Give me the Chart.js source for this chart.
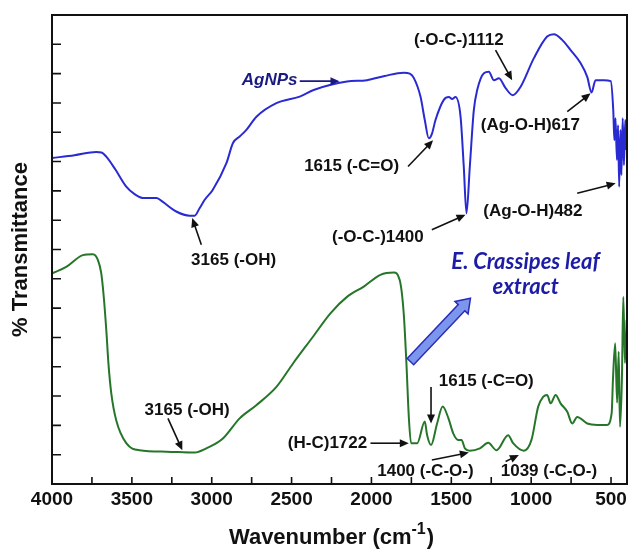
<!DOCTYPE html>
<html><head><meta charset="utf-8">
<script src="https://cdn.jsdelivr.net/npm/chart.js@4"></script>
<style>html,body{margin:0;padding:0;background:#fff}canvas{display:block}</style>
</head><body>
<canvas id="c" width="628" height="551"></canvas>
<script>
// ---- data ----
const agWavenumber = [4000,3859,3723,3690,3660,3602,3535,3483,3433,3345,3308,3222,3138,3107,3076,3044,2994,2908,2867,2825,2783,2720,2595,2449,2362,2153,2028,1917,1798,1760,1735,1693,1666,1641,1622,1599,1547,1515,1495,1474,1442,1422,1405,1384,1359,1338,1296,1265,1234,1202,1160,1115,1066,983,900,858,806,753,690,649,622,597,544,502,486,479,472,463,456,449,441,435,427,419,411,404];
const agTransmittance = [69.5,70.1,70.8,70.7,69.8,67.0,63.4,61.8,61.0,61.0,60.2,58.1,57.2,57.2,58.8,60.6,62.7,68.4,72.7,74.1,75.5,78.3,81.2,82.6,84.0,85.8,86.1,87.0,87.7,87.5,86.6,82.6,77.6,73.7,74.6,77.6,81.9,82.5,82.1,82.5,78.3,67.7,57.7,67.7,79.7,84.0,87.6,87.9,86.1,86.5,84.4,82.9,84.7,90.8,95.4,95.9,94.7,92.5,89.7,86.8,83.5,86.1,86.1,85.9,79.7,73.3,78.0,69.1,76.5,63.4,75.5,65.9,78.0,68.0,77.6,71.2];
const extractWavenumber = [4000,3911,3807,3744,3713,3692,3677,3660,3646,3629,3598,3535,3452,3284,3107,3034,2930,2825,2721,2595,2491,2366,2257,2153,2048,1944,1860,1823,1798,1781,1766,1752,1714,1666,1652,1627,1589,1554,1519,1488,1457,1436,1415,1384,1321,1269,1217,1144,1113,1046,998,956,925,900,878,847,816,774,743,712,649,586,526,496,488,474,462,452,444,432,423,413,402];
const extractTransmittance = [44.9,46.3,48.8,49.0,47.8,45.0,40.3,32.8,25.4,19.4,13.6,8.7,7.2,6.9,6.7,7.6,9.7,14.0,16.8,20.7,25.7,31.4,36.4,39.9,42.1,44.6,45.1,43.5,36.4,25.7,14.3,8.7,8.7,13.3,10.5,8.3,12.9,16.5,14.1,10.8,9.4,9.4,7.6,7.1,7.6,8.8,7.2,10.4,8.7,7.1,9.4,16.5,18.6,19.0,17.2,19.0,17.2,15.4,12.9,14.3,12.9,12.6,12.6,15.1,22.2,30.0,17.3,28.2,12.2,22.2,39.9,25.8,35.0];
const xTickLabels = [4000,3500,3000,2500,2000,1500,1000,500];
const xMinorTicks = [3750,3250,2750,2250,1750,1250,750];
const yTickValues = [6.25,12.5,18.75,25,31.25,37.5,43.75,50,56.25,62.5,68.75,75,81.25,87.5,93.75];

// annotations: text centre and arrow (from -> to) in data coordinates
const annotations = [
  {text:'AgNPs', x:2637, y:86.1, color:'#1a1a80', italic:true, arrow:[2449,85.9,2200,85.9], arrowColor:'#1a1a80'},
  {text:'(-O-C-)1112', x:1453, y:94.7, arrow:[1223,92.5,1119,86.1]},
  {text:'1615 (-C=O)', x:2124, y:67.7, arrow:[1771,67.7,1614,73.3]},
  {text:'(-O-C-)1400', x:1960, y:52.7, arrow:[1622,54.2,1411,57.4]},
  {text:'(Ag-O-H)617', x:1005, y:76.5, arrow:[774,79.4,628,83.3]},
  {text:'(Ag-O-H)482', x:989, y:58.1, arrow:[712,62.0,471,64.1]},
  {text:'3165 (-OH)', x:2863, y:47.8, arrow:[3065,51.0,3122,56.7]},
  {text:'3165 (-OH)', x:3154, y:15.8, arrow:[3274,14.0,3184,7.2]},
  {text:'1615 (-C=O)', x:1281, y:21.8, arrow:[1627,20.7,1627,12.9]},
  {text:'(H-C)1722', x:2275, y:8.7, arrow:[2006,8.7,1766,8.7]},
  {text:'1400 (-C-O-)', x:1662, y:2.6, arrow:[1622,5.1,1390,6.7]},
  {text:'1039 (-C-O-)', x:889, y:2.6, arrow:[1160,4.8,1077,6.2]}
];
const seriesLabels = ['E. Crassipes leaf', 'extract'];
const seriesLabelPos = {x:1035, y1:47.4, y2:42.1};
const blockArrow = [1756,26.1,1380,39.6];

function drawArrow(ctx,x1,y1,x2,y2,color){
  const a=Math.atan2(y2-y1,x2-x1), hl=9, hw=4;
  ctx.save();
  ctx.strokeStyle=color; ctx.fillStyle=color; ctx.lineWidth=1.6;
  ctx.beginPath(); ctx.moveTo(x1,y1); ctx.lineTo(x2-hl*Math.cos(a)*0.8,y2-hl*Math.sin(a)*0.8); ctx.stroke();
  ctx.beginPath();
  ctx.moveTo(x2,y2);
  ctx.lineTo(x2-hl*Math.cos(a)+hw*Math.sin(a), y2-hl*Math.sin(a)-hw*Math.cos(a));
  ctx.lineTo(x2-hl*Math.cos(a)-hw*Math.sin(a), y2-hl*Math.sin(a)+hw*Math.cos(a));
  ctx.closePath(); ctx.fill();
  ctx.restore();
}

const decorPlugin = {
  id:'decor',
  afterDatasetsDraw(chart){
    const ctx=chart.ctx, xs=chart.scales.x, ys=chart.scales.y, ca=chart.chartArea;
    ctx.save();
    // frame
    ctx.strokeStyle='#111'; ctx.lineWidth=2;
    ctx.strokeRect(ca.left, ca.top, ca.right-ca.left, ca.bottom-ca.top);
    // inner ticks
    ctx.lineWidth=1.6;
    ctx.beginPath();
    xTickLabels.concat(xMinorTicks).forEach(v=>{const p=xs.getPixelForValue(v); ctx.moveTo(p,ca.bottom); ctx.lineTo(p,ca.bottom-7);});
    yTickValues.forEach(v=>{const p=ys.getPixelForValue(v); ctx.moveTo(ca.left,p); ctx.lineTo(ca.left+9,p);});
    ctx.stroke();
    // annotations
    ctx.textAlign='center'; ctx.textBaseline='middle';
    annotations.forEach(a=>{
      ctx.font=(a.italic?'italic ':'')+'bold 17px "Liberation Sans", Arial, sans-serif';
      ctx.fillStyle=a.color||'#111';
      ctx.fillText(a.text, xs.getPixelForValue(a.x), ys.getPixelForValue(a.y));
      const r=a.arrow;
      drawArrow(ctx, xs.getPixelForValue(r[0]), ys.getPixelForValue(r[1]), xs.getPixelForValue(r[2]), ys.getPixelForValue(r[3]), a.arrowColor||'#111');
    });
    // series label
    ctx.font='italic bold 22px Lato, "Open Sans", sans-serif';
    ctx.fillStyle='#1c1ca6';
    ctx.fillText(seriesLabels[0], xs.getPixelForValue(seriesLabelPos.x), ys.getPixelForValue(seriesLabelPos.y1));
    ctx.fillText(seriesLabels[1], xs.getPixelForValue(seriesLabelPos.x), ys.getPixelForValue(seriesLabelPos.y2));
    // block arrow
    const bx1=xs.getPixelForValue(blockArrow[0]), by1=ys.getPixelForValue(blockArrow[1]);
    const bx2=xs.getPixelForValue(blockArrow[2]), by2=ys.getPixelForValue(blockArrow[3]);
    const ang=Math.atan2(by2-by1,bx2-bx1), len=Math.hypot(bx2-bx1,by2-by1);
    ctx.translate(bx1,by1); ctx.rotate(ang);
    const sw=4.5, hw=9, hl=13;
    ctx.beginPath();
    ctx.moveTo(0,-sw); ctx.lineTo(len-hl,-sw); ctx.lineTo(len-hl,-hw); ctx.lineTo(len,0);
    ctx.lineTo(len-hl,hw); ctx.lineTo(len-hl,sw); ctx.lineTo(0,sw); ctx.closePath();
    ctx.fillStyle='#7b96ec'; ctx.fill();
    ctx.strokeStyle='#2b2bb8'; ctx.lineWidth=1.5; ctx.stroke();
    ctx.restore();
  },
  afterDraw(chart){
    const ctx=chart.ctx, ca=chart.chartArea;
    ctx.save();
    ctx.fillStyle='#111'; ctx.textBaseline='alphabetic'; ctx.textAlign='left';
    const main='Wavenumber (cm', sup='-1', end=')';
    ctx.font='bold 22px "Liberation Sans", Arial, sans-serif';
    const w1=ctx.measureText(main).width, w3=ctx.measureText(end).width;
    ctx.font='bold 16px "Liberation Sans", Arial, sans-serif';
    const w2=ctx.measureText(sup).width;
    const total=w1+w2+w3+1;
    const cx=(ca.left+ca.right)/2 - 8;
    let x=cx-total/2, base=544;
    ctx.font='bold 22px "Liberation Sans", Arial, sans-serif';
    ctx.fillText(main,x,base); x+=w1;
    ctx.font='bold 16px "Liberation Sans", Arial, sans-serif';
    ctx.fillText(sup,x,base-10); x+=w2+1;
    ctx.font='bold 22px "Liberation Sans", Arial, sans-serif';
    ctx.fillText(end,x,base);
    ctx.restore();
  }
};

new Chart(document.getElementById('c'), {
  type:'line',
  data:{
    datasets:[
      {label:'AgNPs', data:agWavenumber.map((w,i)=>({x:w,y:agTransmittance[i]})), borderColor:'#2a2ad2', borderWidth:2, pointRadius:0, cubicInterpolationMode:'monotone', fill:false},
      {label:'E. Crassipes leaf extract', data:extractWavenumber.map((w,i)=>({x:w,y:extractTransmittance[i]})), borderColor:'#26762a', borderWidth:2, pointRadius:0, cubicInterpolationMode:'monotone', fill:false}
    ]
  },
  options:{
    responsive:false, animation:false, devicePixelRatio:1,
    layout:{padding:{top:15,right:1,left:0,bottom:0}},
    plugins:{legend:{display:false}, tooltip:{enabled:false}},
    scales:{
      x:{type:'linear', reverse:true, min:400, max:4000,
         afterBuildTicks:s=>{s.ticks=xTickLabels.map(v=>({value:v}));},
         afterFit:s=>{s.height=67; s.paddingLeft=0; s.paddingRight=0;},
         grid:{display:false, drawTicks:false}, border:{display:false},
         ticks:{color:'#111', padding:4, maxRotation:0, autoSkip:false, callback:v=>String(v), font:{family:'"Liberation Sans", Arial, sans-serif', size:19, weight:'bold'}},
         title:{display:false}},
      y:{type:'linear', min:0, max:100,
         afterFit:s=>{s.width=52;},
         grid:{display:false, drawTicks:false}, border:{display:false},
         ticks:{display:false},
         title:{display:true, text:'% Transmittance', color:'#111', padding:{top:8,bottom:0}, font:{family:'"Liberation Sans", Arial, sans-serif', size:22, weight:'bold'}}}
    }
  },
  plugins:[decorPlugin]
});
</script>
</body></html>
